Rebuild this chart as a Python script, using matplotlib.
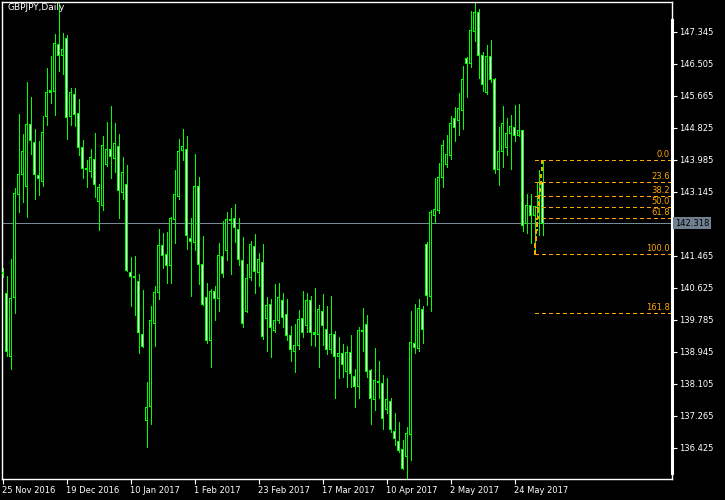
"""GBPJPY daily candlesticks with a Fibonacci retracement, MT4 style."""

import matplotlib

matplotlib.use("Agg")
import matplotlib.pyplot as plt
import matplotlib.transforms as mtransforms
import numpy as np
import pandas as pd

SYMBOL = "GBPJPY,Daily"
FIRST_DAY = "2016-11-25"

OPENS = [
    141.03, 140.48, 138.81, 140.37, 143.08, 143.60, 143.28, 144.91, 144.44, 143.58,
    143.41, 145.11, 145.75, 145.77, 147.01, 146.72, 147.17, 145.11, 145.70, 145.20,
    144.31, 143.77, 143.67, 143.99, 142.88, 142.78, 143.87, 144.24, 144.02, 144.34,
    143.12, 143.34, 141.03, 140.93, 140.78, 139.40, 137.13, 137.50, 139.69, 140.50,
    141.73, 141.50, 141.20, 142.42, 143.03, 144.22, 144.26, 141.92, 141.81, 143.29,
    141.24, 140.37, 139.23, 140.52, 140.35, 141.44, 141.60, 142.42, 142.43, 142.14,
    141.33, 140.00, 140.90, 141.70, 141.02, 141.29, 139.82, 140.19, 139.50, 139.76,
    140.28, 139.93, 139.36, 138.95, 139.10, 139.82, 139.63, 140.30, 139.45, 139.40,
    140.00, 139.53, 139.01, 139.40, 138.81, 138.90, 138.42, 138.93, 138.29, 138.03,
    139.50, 139.67, 138.44, 137.68, 138.17, 138.10, 137.44, 137.65, 136.86, 136.60,
    136.38, 136.19, 136.76, 139.16, 139.03, 140.06, 141.76, 140.39, 142.53, 142.65,
    143.52, 143.86, 144.09, 145.07, 145.01, 145.27, 146.65, 146.51, 147.35, 147.84,
    146.72, 145.74, 146.69, 146.08, 143.73, 144.20, 144.31, 144.68, 144.83, 144.62,
    144.74, 142.30, 142.78, 142.53, 142.49, 143.38,
]
HIGHS = [
    141.13, 140.93, 141.37, 143.23, 145.18, 144.65, 146.02, 145.62, 144.79, 144.48,
    145.13, 146.38, 146.71, 147.28, 148.09, 147.31, 147.26, 145.86, 145.86, 145.58,
    144.50, 143.98, 144.27, 144.68, 143.35, 144.61, 144.97, 145.39, 144.94, 144.65,
    144.05, 143.85, 141.42, 141.46, 140.98, 140.56, 138.14, 140.14, 140.67, 142.17,
    142.05, 142.08, 142.49, 143.71, 144.53, 144.79, 144.61, 142.45, 144.13, 143.52,
    141.98, 140.74, 140.58, 140.67, 141.79, 142.38, 142.60, 142.71, 142.82, 142.45,
    141.95, 141.24, 141.85, 142.03, 141.53, 141.76, 140.37, 140.33, 140.72, 140.74,
    140.48, 140.32, 139.62, 139.66, 140.04, 140.54, 140.48, 140.41, 140.61, 140.17,
    140.46, 140.14, 140.41, 139.49, 139.34, 139.15, 139.09, 139.38, 138.49, 139.58,
    140.08, 139.91, 138.49, 139.03, 138.70, 138.33, 138.26, 137.74, 137.33, 137.09,
    136.63, 136.96, 140.01, 140.20, 140.33, 140.14, 141.82, 142.66, 143.50, 143.89,
    144.50, 144.63, 145.13, 145.36, 145.73, 146.44, 146.69, 147.89, 148.09, 147.93,
    146.80, 147.00, 147.13, 146.12, 144.83, 145.39, 145.07, 145.16, 145.42, 145.45,
    144.76, 143.08, 143.08, 142.77, 143.71, 143.98,
]
LOWS = [
    140.91, 138.83, 138.48, 139.95, 142.62, 142.88, 142.49, 144.13, 142.95, 143.06,
    143.29, 144.90, 145.48, 145.16, 146.31, 146.23, 144.52, 144.90, 144.87, 144.11,
    143.50, 143.28, 143.54, 143.00, 142.14, 142.66, 143.83, 143.51, 143.67, 142.46,
    142.95, 141.05, 140.15, 139.91, 138.90, 139.06, 136.43, 137.04, 139.10, 140.33,
    141.15, 140.74, 140.76, 141.81, 142.94, 143.98, 141.64, 140.41, 141.61, 140.72,
    140.17, 139.18, 138.53, 139.78, 140.01, 140.91, 141.35, 140.98, 141.83, 141.22,
    139.60, 139.98, 140.83, 140.48, 140.68, 139.28, 138.97, 138.81, 139.47, 139.71,
    139.58, 139.25, 138.71, 138.42, 139.02, 139.34, 139.45, 139.12, 139.10, 138.53,
    139.12, 138.88, 138.90, 137.74, 138.26, 138.29, 138.03, 138.03, 137.50, 137.72,
    138.95, 138.29, 137.05, 137.41, 137.72, 136.92, 137.33, 136.83, 136.50, 136.32,
    135.86, 135.55, 136.10, 138.92, 138.96, 139.18, 140.17, 140.02, 142.31, 142.58,
    143.28, 143.78, 144.00, 144.48, 144.63, 144.79, 145.64, 146.43, 147.11, 146.14,
    145.80, 145.72, 146.03, 143.63, 143.32, 143.80, 144.11, 143.74, 144.48, 144.61,
    142.12, 142.05, 141.81, 141.50, 142.01, 142.01,
]
CLOSES = [
    141.01, 138.95, 140.35, 143.10, 143.60, 144.21, 144.91, 144.49, 143.60, 143.50,
    144.70, 145.75, 145.79, 147.04, 146.73, 146.88, 145.09, 145.75, 145.18, 144.30,
    143.76, 143.75, 144.05, 143.34, 143.26, 144.37, 144.24, 144.06, 144.41, 143.17,
    143.65, 141.07, 140.91, 140.91, 139.44, 139.08, 137.48, 139.76, 140.50, 141.73,
    141.46, 141.20, 142.45, 143.08, 144.21, 144.34, 141.99, 141.83, 143.29, 141.24,
    140.19, 139.23, 140.52, 140.35, 141.47, 141.00, 142.42, 142.38, 142.21, 141.37,
    139.69, 140.87, 141.76, 141.06, 141.37, 139.34, 140.17, 139.58, 139.76, 140.37,
    139.85, 139.36, 139.01, 139.12, 139.79, 139.45, 140.30, 139.45, 139.40, 140.04,
    139.63, 139.01, 139.40, 138.83, 138.90, 138.61, 138.93, 138.38, 138.03, 139.51,
    139.48, 138.42, 137.72, 138.18, 138.16, 137.20, 137.70, 136.89, 136.67, 136.35,
    135.88, 136.80, 139.19, 139.05, 140.07, 139.53, 140.42, 142.60, 142.69, 143.52,
    144.37, 144.13, 144.94, 144.83, 145.32, 146.09, 146.51, 147.37, 147.84, 146.73,
    145.96, 146.69, 146.08, 143.73, 144.20, 144.94, 144.68, 144.85, 144.63, 144.74,
    142.25, 142.78, 142.53, 142.75, 143.38, 142.318,
]

PRICE_TICKS = [136.425, 137.265, 138.105, 138.945, 139.785, 140.625, 141.465,
               143.145, 143.985, 144.825, 145.665, 146.505, 147.345]
LAST_PRICE = 142.318

FIB_START, FIB_END = 133, 135
FIB_LOW, FIB_HIGH = 141.50, 143.98
FIB_LEVELS = [0.0, 23.6, 38.2, 50.0, 61.8, 100.0, 161.8]

DATE_STEP = 16

BULL = "#000000"
BEAR = "#ffffff"
OUTLINE = "#00ff00"
FIB_COLOR = "#ffa500"
LINE_COLOR = "#778899"

Y_MIN, Y_MAX = 135.603, 148.124
AX_H_PX = 477


def main() -> None:
    o = np.array(OPENS)
    h = np.array(HIGHS)
    low = np.array(LOWS)
    c = np.array(CLOSES)
    x = np.arange(len(o))
    dates = pd.bdate_range(FIRST_DAY, periods=len(o))

    fig = plt.figure(figsize=(7.25, 5.0), dpi=100, facecolor="black")
    ax = fig.add_axes([2 / 725, 21 / 500, 670 / 725, AX_H_PX / 500], facecolor="black")

    # one screen pixel in price units, used for the 1px candle outline
    px = (Y_MAX - Y_MIN) / AX_H_PX
    body_lo = np.minimum(o, c)
    body_h = np.abs(c - o)

    ax.vlines(x, low, h, color=OUTLINE, linewidth=0.72, antialiased=False, zorder=2)
    # outer green body (3 px) then 1 px fill inside
    outer = ax.bar(x, np.maximum(body_h, px),
                   bottom=body_lo - np.where(body_h < px, px / 2, 0),
                   width=0.75, color=OUTLINE, linewidth=0, antialiased=False, zorder=3)
    inner = body_h > 2 * px
    fills = np.where(c >= o, BULL, BEAR)
    core = ax.bar(x[inner], body_h[inner] - 2 * px, bottom=body_lo[inner] + px,
                  width=0.25, color=fills[inner], linewidth=0, antialiased=False,
                  zorder=4)
    for patch in list(outer) + list(core):
        patch.set_snap(False)

    # 4 px per bar, bar centres on pixel centres
    ax.set_xlim(-0.125, 167.375)
    ax.set_ylim(Y_MIN, Y_MAX)

    ax.axhline(LAST_PRICE, color=LINE_COLOR, linewidth=0.72, antialiased=False,
               zorder=1)

    # fibonacci retracement
    span = FIB_HIGH - FIB_LOW
    right = ax.get_xlim()[1]
    ax.plot([FIB_START, FIB_END], [FIB_LOW, FIB_HIGH], color=FIB_COLOR,
            linewidth=0.72, dashes=(4, 4), antialiased=False, zorder=5)
    for lvl in FIB_LEVELS:
        price = FIB_HIGH - lvl / 100 * span
        ax.plot([FIB_START, right], [price, price], color=FIB_COLOR,
                linewidth=0.72, dashes=(4, 4), antialiased=False, zorder=5)
        ax.text(right - 0.5, price + 0.03, f"{lvl:.1f}", color=FIB_COLOR,
                fontsize=6, ha="right", va="bottom", zorder=6)

    for sp in ax.spines.values():
        sp.set_color("white")
        sp.set_linewidth(1.0)
    ax.plot([1, 1], [0.0126, 0.962], transform=ax.transAxes, color="white",
            linewidth=2.2, clip_on=False, zorder=7)

    ax.yaxis.tick_right()
    ax.set_yticks(PRICE_TICKS)
    ax.set_yticklabels([f"{v:.3f}" for v in PRICE_TICKS])
    ax.tick_params(axis="y", colors="white", labelcolor="white", length=3.5,
                   width=0.8, pad=1.5, labelsize=6)

    pos = x[::DATE_STEP]
    ax.set_xticks(pos)
    ax.set_xticklabels([f"{d.day} {d:%b %Y}" for d in dates[pos]], ha="left")
    ax.tick_params(axis="x", colors="white", labelcolor="white", length=3.5,
                   width=0.8, pad=1.5, labelsize=6)

    trans = mtransforms.blended_transform_factory(ax.transAxes, ax.transData)
    ax.text(1.004, LAST_PRICE, f"{LAST_PRICE:.3f}", transform=trans, color="black",
            fontsize=6, ha="left", va="center", zorder=8,
            bbox=dict(facecolor="#708090", edgecolor="none", pad=1.2))

    fig.text(7 / 725, 1 - 3 / 500, SYMBOL, color="white", fontsize=6.5,
             ha="left", va="top")

    fig.savefig("out.png", dpi=100, facecolor="black")
    plt.close(fig)


if __name__ == "__main__":
    main()
